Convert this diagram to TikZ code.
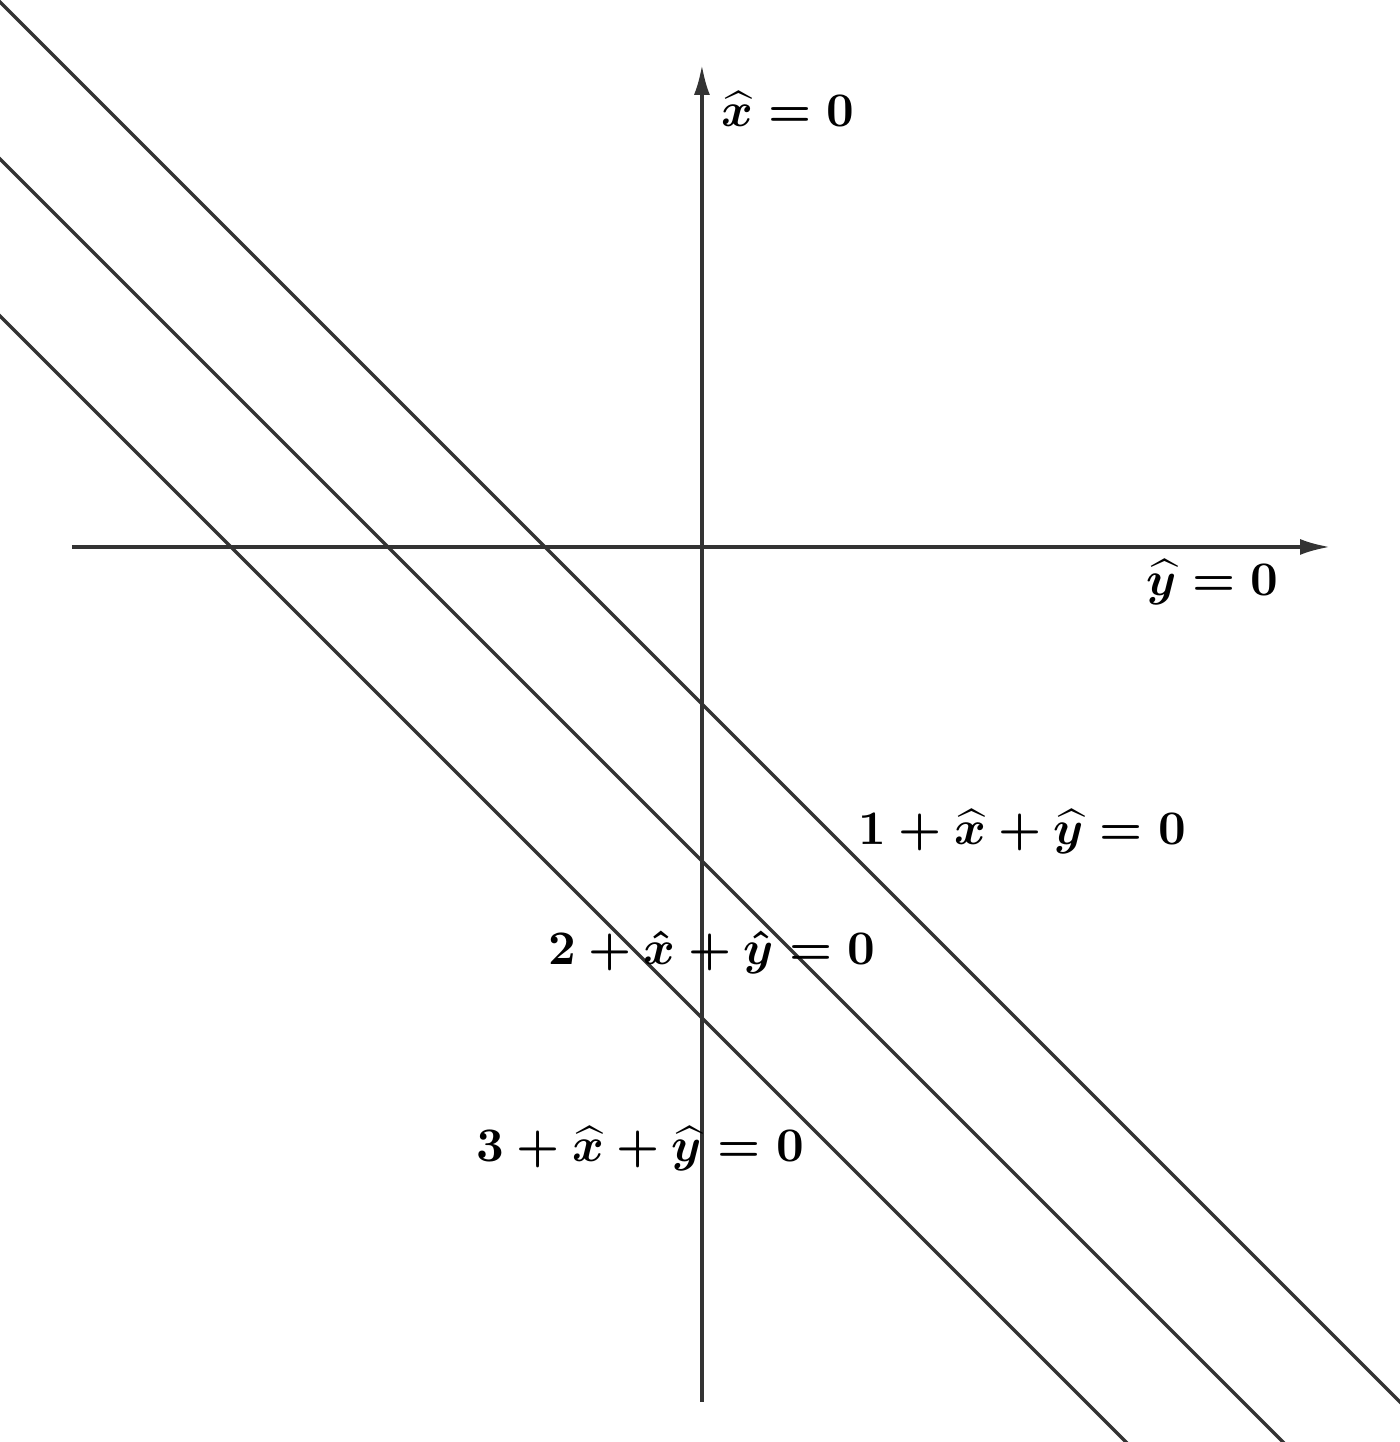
\documentclass[tikz,border=0pt]{standalone}
\usepackage{amssymb}
\usepackage{amsmath}
\usepackage{tikz}
\usetikzlibrary{calc}
\usetikzlibrary{arrows.meta}
\usetikzlibrary{positioning}

\definecolor{lineGray}{RGB}{51,51,51}

\begin{document}
\begin{tikzpicture}[x = 1.11cm, y = 1.11cm,
		axis/.style = {line width = 0.65pt, color = lineGray, -{Latex[length = 6pt, width = 3.2pt]}},
		level/.style = {line width = 0.65pt, color = lineGray},
		eqn/.style = {font = \boldmath, scale = 0.97, inner sep = 0pt, anchor = base}]
			 	% Frame
			 	\clip (-4.471, -5.701) rectangle (4.446, 3.484);
			 	
			 	% Lines
			 	\draw[level] (-5, 4) -- (5, -6);
			 	\draw[level] (-5, 3) -- (5, -7);
			 	\draw[level] (-5, 2) -- (5, -8);
			 	
			 	% Axes
			 	\coordinate (yStart) at (-4.013, 0);
			 	\coordinate (yEnd) at (4.0, 0);
			 	\coordinate (xStart) at (0, -5.446);
			 	\coordinate (xEnd) at (0, 3.07);
			 	\draw[axis] (yStart) to (yEnd);
			 	\draw[axis] (xStart) to (xEnd);
			 	
			 	% Labels
			 	\node[eqn] (xZero) at (0.548, 2.675) {$\widehat{x} = 0$};
			 	\node[eqn] (yZero) at (3.252, -0.306) {$\widehat{y} = 0$};
			 	\node[eqn] (one) at (2.041, -1.898) {$1 + \widehat{x} + \widehat{y} = 0$};
			 	\node[eqn] (two) at (0.064, -2.662) {$2 + \hat{x} + \hat{y} = 0$};
			 	\node[eqn] (three) at (-0.392, -3.917) {$3 + \widehat{x} + \widehat{y} = 0$};
			\end{tikzpicture}
\end{document}
